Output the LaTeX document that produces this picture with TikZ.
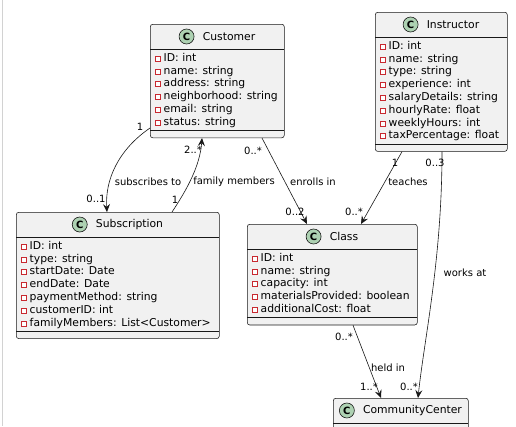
\documentclass[tikz,border=0pt]{standalone}
\usepackage{fontspec}
\setmainfont{DejaVu Sans}
\usetikzlibrary{calc,arrows.meta}
\definecolor{boxfill}{HTML}{F1F1F1}
\definecolor{boxline}{HTML}{181818}
\definecolor{badge}{HTML}{ADD1B2}
\definecolor{privred}{HTML}{C82930}
\tikzset{
 classbox/.style={rectangle, draw=boxline, fill=boxfill, line width=0.55pt, rounded corners=2.5pt, inner sep=0pt},
 sepline/.style={draw=boxline, line width=0.55pt},
 clsname/.style={inner sep=0pt, font=\fontsize{10.8}{12}\selectfont, text=black},
 cbadge/.style={circle, draw=boxline, fill=badge, line width=0.6pt, minimum size=15pt, inner sep=0pt, font=\fontsize{10}{10}\selectfont\bfseries},
 attr/.style={inner sep=0pt, anchor=west, font=\fontsize{10.8}{12}\selectfont, text height=8pt, text depth=2.3pt},
 privsq/.style={draw=privred, fill=white, line width=0.6pt},
 assoc/.style={draw=boxline, line width=0.6pt, -{Stealth[length=8pt,width=7pt,inset=3pt]}},
 elabel/.style={inner sep=0pt, font=\fontsize{10}{12}\selectfont},
}
\newcommand{\umlclass}[7]{%
  \pgfmathsetmacro{\ucsep}{#3+25}%
  \ifnum#5=0 \pgfmathsetmacro{\uclow}{\ucsep+8}\else\pgfmathsetmacro{\uclow}{\ucsep+9.5+(#5-1)*12.8+8}\fi
  \pgfmathsetmacro{\ucht}{\uclow+7-#3}%
  \node[classbox, minimum width=#4pt, minimum height=\ucht pt, anchor=north west] (#1) at (#2,#3) {};
  \draw[sepline] (#2,\ucsep) -- ++(#4,0);
  \draw[sepline] (#2,\uclow) -- ++(#4,0);
  \node[clsname] (#1-n) at ({#2+#4/2+12},{#3+12.5}) {#6};
  \node[cbadge] (#1-c) at ([xshift=-16pt]#1-n.west) {C};
  \ifnum#5>0
  \foreach \attrtext [count=\i] in {#7} {%
    \pgfmathsetmacro{\yy}{\ucsep+9.5+(\i-1)*12.8}
    \draw[privsq] ({#2+5.5},{\yy-2.5}) rectangle ++(5,5);
    \node[attr] (#1-a\i) at ({#2+13.5},\yy) {\attrtext};
  }\fi
}
\begin{document}
\begin{tikzpicture}[x=1pt,y=-1pt]
\fill[white] (0,0) rectangle (516,426);
\useasboundingbox (0,0) rectangle (516,426);
\draw[gray!35, line width=1.2pt] (2.5,0) -- (2.5,426);
\begin{scope}
\clip (0,0) rectangle (516,426);
\umlclass{cust}{150}{24}{134}{6}{Customer}{ID: int,name: string,address: string,neighborhood: string,email: string,status: string}
\umlclass{inst}{375}{12}{132}{8}{Instructor}{ID: int,name: string,type: string,experience: int,salaryDetails: string,hourlyRate: float,weeklyHours: int,taxPercentage: float}
\umlclass{subs}{16}{212}{203}{7}{Subscription}{ID: int,type: string,startDate: Date,endDate: Date,paymentMethod: string,customerID: int,familyMembers: List<Customer>}
\umlclass{cls}{247}{224}{170}{5}{Class}{ID: int,name: string,capacity: int,materialsProvided: boolean,additionalCost: float}
\umlclass{cc}{333}{398}{135}{0}{CommunityCenter}{}
\end{scope}
% connectors
\draw[assoc] ($(cust.north west)+(0,104)$) .. controls (118,150) and (105,180) .. ($(subs.north west)+(91,0)$);
\draw[assoc] ($(subs.north west)+(156,0)$) .. controls (188,188) and (200,165) .. ($(cust.south west)+(52,0)$);
\draw[assoc] ($(cust.south west)+(112,0)$) -- ($(cls.north west)+(60,0)$);
\draw[assoc] ($(inst.south west)+(27,0)$) -- ($(cls.north west)+(114,0)$);
\draw[assoc] ($(inst.south west)+(67,0)$) .. controls (442,260) and (424,340) .. ($(cc.north west)+(85,0)$);
\draw[assoc] ($(cls.south west)+(106,0)$) -- ($(cc.north west)+(48,0)$);
% labels
\node[elabel] (l1) at (140,127) {1};
\node[elabel] (l2) at (96,199) {0..1};
\node[elabel] (l3) at (148,182) {subscribes to};
\node[elabel] (l4) at (193,150) {2..*};
\node[elabel] (l5) at (175,200) {1};
\node[elabel] (l6) at (234,182) {family members};
\node[elabel] (l7) at (253,151) {0..*};
\node[elabel] (l8) at (313,182) {enrolls in};
\node[elabel] (l9) at (295,212) {0..2};
\node[elabel] (l10) at (395,163) {1};
\node[elabel] (l11) at (408,182) {teaches};
\node[elabel] (l12) at (354,212) {0..*};
\node[elabel] (l13) at (435,163) {0..3};
\node[elabel] (l14) at (465,273) {works at};
\node[elabel] (l15) at (409,387) {0..*};
\node[elabel] (l16) at (344,337) {0..*};
\node[elabel] (l17) at (388,368) {held in};
\node[elabel] (l18) at (369,387) {1..*};
\end{tikzpicture}
\end{document}
